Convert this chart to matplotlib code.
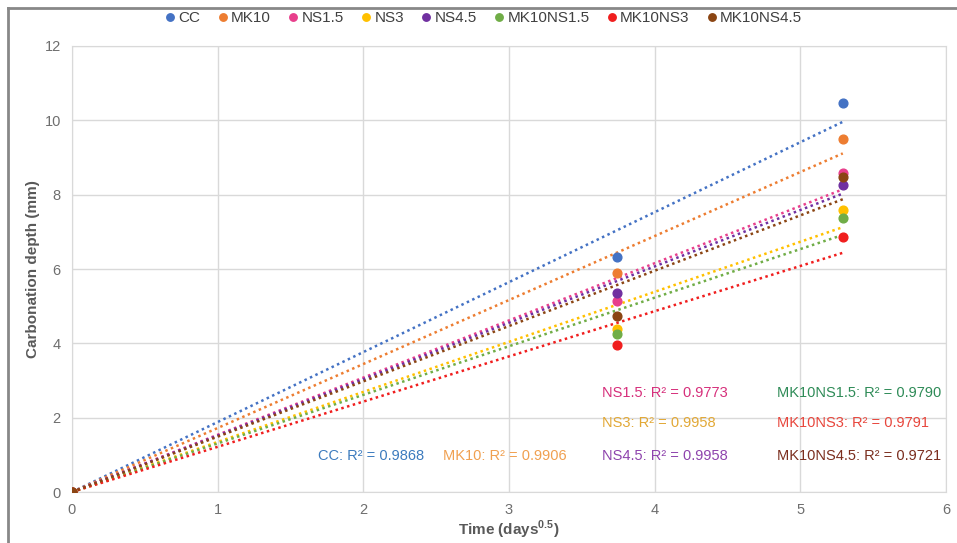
import matplotlib.pyplot as plt
import numpy as np

plt.rcParams["font.family"] = ["Liberation Sans", "DejaVu Sans"]
plt.rcParams["mathtext.fontset"] = "custom"
plt.rcParams["mathtext.rm"] = "Liberation Sans"
plt.rcParams["mathtext.bf"] = "Liberation Sans:bold"

# time axis is sqrt(days): 0, 14 and 28 days
t = np.sqrt([0, 14, 28])

series = ["CC", "MK10", "NS1.5", "NS3", "NS4.5", "MK10NS1.5", "MK10NS3", "MK10NS4.5"]
cc = [0, 6.32, 10.47]
mk10 = [0, 5.89, 9.50]
ns15 = [0, 5.14, 8.58]
ns3 = [0, 4.38, 7.59]
ns45 = [0, 5.35, 8.26]
mk10ns15 = [0, 4.25, 7.37]
mk10ns3 = [0, 3.95, 6.86]
mk10ns45 = [0, 4.73, 8.47]
depths = [cc, mk10, ns15, ns3, ns45, mk10ns15, mk10ns3, mk10ns45]

r2 = [0.9868, 0.9906, 0.9773, 0.9958, 0.9958, 0.9790, 0.9791, 0.9721]

colors = ["#4472C4", "#ED7D31", "#E83F8C", "#FFC000", "#7030A0", "#70AD47", "#F01E1E", "#8B4513"]
text_colors = ["#3C7BBE", "#F0A050", "#D62F7B", "#E2A835", "#8E44AD", "#2E8B57", "#E8463C", "#7B2E1E"]

# where each R² note sits (data coords)
note_xy = [(1.69, 0.97), (2.55, 0.97), (3.64, 2.67), (3.64, 1.86), (3.64, 0.97),
           (4.84, 2.67), (4.84, 1.86), (4.84, 0.97)]

fig = plt.figure(figsize=(9.57, 5.43), dpi=100)
ax = fig.add_axes([0.0752, 0.0939, 0.9133, 0.8214])

for name, y, c in zip(series, depths, colors):
    y = np.array(y)
    # linear trend forced through the origin
    k = (t @ y) / (t @ t)
    xx = np.array([0, t[-1]])
    ax.plot(xx, k * xx, color=c, linestyle=(0, (1, 1.4)), linewidth=1.8, zorder=2)
    ax.plot(t, y, "o", color=c, markersize=6.3, zorder=3, label=name)

for name, val, c, (x, y) in zip(series, r2, text_colors, note_xy):
    ax.text(x, y, f"{name}: R² = {val:.4f}", color=c, fontsize=10.5, va="center")

ax.set_xlim(0, 6)
ax.set_ylim(0, 12)
ax.set_xticks(range(0, 7))
ax.set_yticks(range(0, 13, 2))
ax.grid(True, color="#D9D9D9", linewidth=1)
ax.set_axisbelow(True)
for s in ax.spines.values():
    s.set_color("#D9D9D9")
ax.tick_params(length=0, colors="#6E6E6E", labelsize=10.5, pad=8)
ax.set_xlabel(r"Time (days$^{\mathbf{0.5}}$)", fontsize=11, fontweight="bold", color="#595959", labelpad=1)
ax.set_ylabel("Carbonation depth (mm)", fontsize=11, fontweight="bold", color="#595959", labelpad=3)

fig.legend(loc="center", bbox_to_anchor=(0.504, 0.966), ncol=8, frameon=False, fontsize=11,
           handletextpad=0.05, columnspacing=0.95, handlelength=1.0, markerscale=0.85,
           labelcolor="#404040")

# thin frame on the left and top edges
fig.add_artist(plt.Line2D([0.008, 0.008], [0, 0.985], color="#888888", linewidth=2, transform=fig.transFigure))
fig.add_artist(plt.Line2D([0.008, 1.0], [0.985, 0.985], color="#888888", linewidth=2, transform=fig.transFigure))

fig.savefig("out.png", dpi=100)
